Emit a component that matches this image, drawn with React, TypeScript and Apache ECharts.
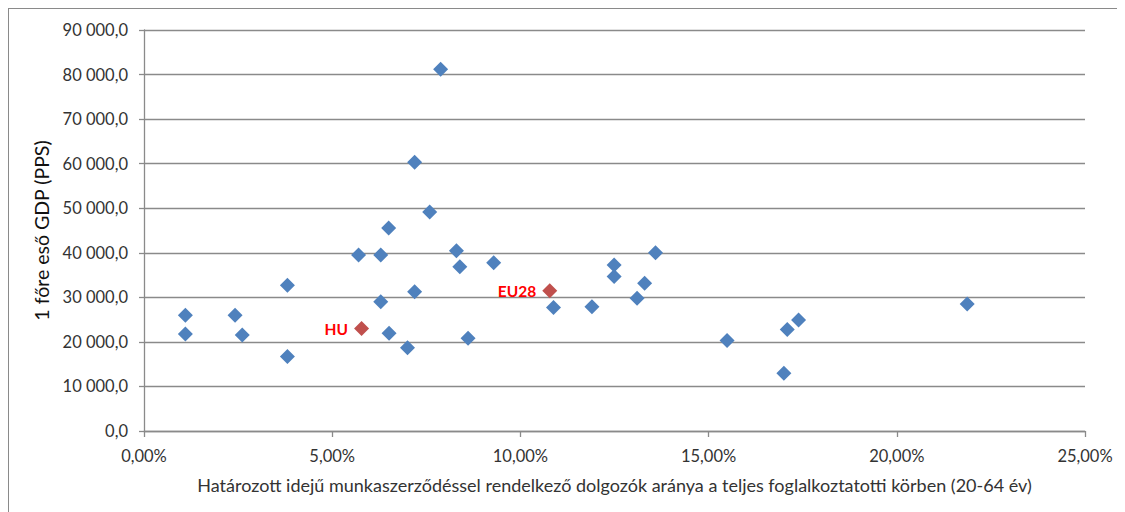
import React, { useEffect, useRef } from "react";
import * as echarts from "echarts";

// Share of fixed-term contracts (%) vs GDP per capita (PPS)
const countryShare: number[] = [
  1.1, 1.1, 2.42, 2.61, 3.81, 3.81, 5.7, 6.29, 6.29, 6.51, 6.5, 7.0, 7.19, 7.19,
  7.59, 7.88, 8.3, 8.39, 8.61, 9.29, 10.88, 11.9, 12.49, 12.49, 13.1, 13.3, 13.59,
  15.49, 17.0, 17.09, 17.39, 21.87,
];
const countryGdp: number[] = [
  26000, 21750, 26000, 21550, 32700, 16700, 39500, 39500, 29000, 21950, 45550, 18700,
  31250, 60300, 49150, 81200, 40450, 36850, 20800, 37750, 27700, 27900, 37250, 34650,
  29800, 33150, 40000, 20300, 12950, 22800, 24900, 28500,
];

const highlightNames: string[] = ["HU", "EU28"];
const highlightShare: number[] = [5.78, 10.78];
const highlightGdp: number[] = [23000, 31500];

const yTicks = { min: 0, max: 90000, interval: 10000 };
const xTicks = { min: 0, max: 25, interval: 5 };

const yAxisTitle = "1 főre eső GDP (PPS)";
const xAxisTitle =
  "Határozott idejű munkaszerződéssel rendelkező dolgozók aránya a teljes foglalkoztatotti körben (20-64 év)";

const fmtThousands = (v: number) => {
  const [int, dec] = v.toFixed(1).split(".");
  return int.replace(/\B(?=(\d{3})+(?!\d))/g, " ") + "," + dec;
};
const fmtPercent = (v: number) => v.toFixed(2).replace(".", ",") + "%";

const FONT = "Lato, 'Open Sans', sans-serif";
const GRID_COLOR = "#8a8a8a";

export default function App() {
  const ref = useRef<HTMLDivElement>(null);

  useEffect(() => {
    if (!ref.current) return;
    const chart = echarts.init(ref.current, undefined, { renderer: "svg" });

    const blue = countryShare.map((x, i) => [x, countryGdp[i]]);
    const red = highlightShare.map((x, i) => ({
      value: [x, highlightGdp[i]],
      name: highlightNames[i],
    }));

    chart.setOption({
      animation: false,
      backgroundColor: "#ffffff",
      textStyle: { fontFamily: FONT },
      grid: { left: 135, right: 34, top: 21, bottom: 88, containLabel: false },
      xAxis: {
        type: "value",
        min: xTicks.min,
        max: xTicks.max,
        interval: xTicks.interval,
        name: xAxisTitle,
        nameLocation: "middle",
        nameGap: 45,
        nameTextStyle: { fontFamily: FONT, fontSize: 18, color: "#333" },
        axisLine: { show: true, lineStyle: { color: GRID_COLOR, width: 1.3 } },
        axisTick: { show: true, length: 6, lineStyle: { color: GRID_COLOR, width: 1.3 } },
        axisLabel: {
          formatter: fmtPercent,
          fontFamily: FONT,
          fontSize: 16.5,
          color: "#333",
          margin: 16,
        },
        splitLine: { show: false },
      },
      yAxis: {
        type: "value",
        min: yTicks.min,
        max: yTicks.max,
        interval: yTicks.interval,
        name: yAxisTitle,
        nameLocation: "middle",
        nameGap: 88,
        nameRotate: 90,
        nameTextStyle: { fontFamily: FONT, fontSize: 19.5, color: "#111" },
        axisLine: { show: true, lineStyle: { color: GRID_COLOR, width: 1.3 } },
        axisTick: { show: true, length: 5, lineStyle: { color: GRID_COLOR, width: 1.3 } },
        axisLabel: {
          formatter: fmtThousands,
          fontFamily: FONT,
          fontSize: 16.5,
          color: "#333",
          margin: 16,
        },
        splitLine: { show: true, lineStyle: { color: GRID_COLOR, width: 1.3 } },
      },
      series: [
        {
          type: "scatter",
          symbol: "diamond",
          symbolSize: 15,
          itemStyle: { color: "#4F81BD", opacity: 1 },
          data: blue,
        },
        {
          type: "scatter",
          symbol: "diamond",
          symbolSize: 15,
          itemStyle: { color: "#C0504D", opacity: 1 },
          label: {
            show: true,
            position: "left",
            distance: 6,
            formatter: (p: any) => p.name,
            color: "#FF0000",
            fontWeight: "bold",
            fontFamily: FONT,
            fontSize: 15.5,
          },
          data: red,
        },
      ],
    });

    return () => chart.dispose();
  }, []);

  return (
    <div
      style={{
        width: 1110,
        height: 510,
        border: "1px solid #8a8a8a",
        background: "#fff",
      }}
    >
      <div ref={ref} style={{ width: 1110, height: 510 }} />
    </div>
  );
}
